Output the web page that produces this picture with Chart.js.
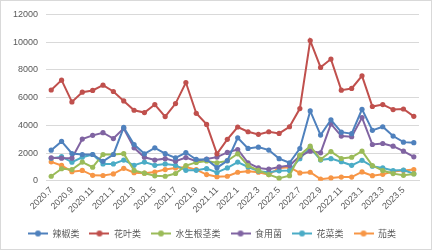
<!DOCTYPE html>
<html lang="zh-CN">
<head>
  <meta charset="UTF-8">
  <title>蔬菜类别月度数据</title>
  <script src="https://cdn.jsdelivr.net/npm/chart.js"></script>
  <style>
    html, body { margin: 0; padding: 0; background: #fff; }
    .box {
      width: 432px; height: 250px;
      box-sizing: border-box;
      border: 1px solid #d9d9d9;
    }
  </style>
</head>
<body>
  <div class="box">
    <canvas id="chart" width="430" height="248"></canvas>
  </div>

  <script>
    // 月份 2020.7 - 2023.6
    const months = [
      '2020.7', '2020.8', '2020.9', '2020.10', '2020.11', '2020.12',
      '2021.1', '2021.2', '2021.3', '2021.4', '2021.5', '2021.6',
      '2021.7', '2021.8', '2021.9', '2021.10', '2021.11', '2021.12',
      '2022.1', '2022.2', '2022.3', '2022.4', '2022.5', '2022.6',
      '2022.7', '2022.8', '2022.9', '2022.10', '2022.11', '2022.12',
      '2023.1', '2023.2', '2023.3', '2023.4', '2023.5', '2023.6'
    ];

    const lajiao = [2210, 2840, 1970, 1900, 1900, 1410, 1900, 3850, 2620, 1950, 2380, 1960,
                    1660, 2040, 1540, 1540, 950, 1450, 3100, 2340, 2430, 2220, 1600, 1300,
                    2330, 5040, 3300, 4400, 3510, 3400, 5160, 3640, 3900, 3230, 2790, 2750];
    const huaye = [6550, 7260, 5690, 6390, 6515, 6900, 6440, 5760, 5090, 4920, 5500, 4630,
                   5570, 7090, 4870, 4070, 1950, 2990, 3880, 3540, 3350, 3540, 3420, 3900,
                   5210, 10110, 8180, 8780, 6540, 6660, 7570, 5360, 5500, 5140, 5180, 4650];
    const shuisheng = [330, 870, 810, 1350, 980, 1900, 1900, 1960, 750, 550, 360, 330,
                       530, 1100, 1330, 1430, 1300, 1440, 1950, 1100, 750, 450, 190, 370,
                       1850, 2500, 1540, 2110, 1610, 1700, 2140, 1100, 740, 520, 400, 500];
    const shiyongjun = [1660, 1630, 1630, 3010, 3280, 3470, 3050, 3780, 2380, 1700, 1500, 1600,
                        1420, 1680, 1420, 1570, 1710, 2050, 2260, 1300, 930, 840, 1000, 1100,
                        1780, 2140, 2020, 4100, 3230, 3180, 4560, 2620, 2690, 2500, 2140, 1730];
    const huacai = [1620, 1740, 1340, 1700, 1900, 1220, 1220, 1500, 1120, 1350, 1120, 1220,
                    1120, 760, 760, 880, 600, 930, 1350, 1000, 700, 620, 720, 740,
                    1600, 2380, 1500, 1600, 1380, 1120, 1480, 1050, 930, 740, 780, 510];
    const qie = [1370, 1110, 660, 750, 400, 385, 500, 900, 590, 550, 630, 810,
                 930, 1000, 810, 450, 300, 330, 620, 690, 620, 450, 930, 980,
                 570, 620, 120, 210, 270, 270, 640, 370, 470, 670, 750, 810];

    const names = ['辣椒类', '花叶类', '水生根茎类', '食用菌', '花菜类', '茄类'];
    const series = [lajiao, huaye, shuisheng, shiyongjun, huacai, qie];
    const colors = ['#4F81BD', '#C0504D', '#9BBB59', '#8064A2', '#4BACC6', '#F79646'];

    // 图例里的小图标：线 + 圆点
    function legendIcon(color) {
      const c = document.createElement('canvas');
      c.width = 20; c.height = 8;
      const g = c.getContext('2d');
      g.strokeStyle = color;
      g.lineWidth = 2;
      g.beginPath();
      g.moveTo(0, 4); g.lineTo(20, 4);
      g.stroke();
      g.fillStyle = color;
      g.beginPath();
      g.arc(10, 4, 3, 0, Math.PI * 2);
      g.fill();
      return c;
    }
    const icons = colors.map(legendIcon);

    const font = "'Liberation Sans', 'Noto Sans CJK SC', sans-serif";

    new Chart(document.getElementById('chart').getContext('2d'), {
      type: 'line',
      data: {
        labels: months,
        datasets: series.map((d, i) => ({
          label: names[i],
          data: d,
          borderColor: colors[i],
          backgroundColor: colors[i],
          borderWidth: 2,
          pointRadius: 2.6,
          pointBorderWidth: 0,
          pointHoverRadius: 3,
          tension: 0
        }))
      },
      options: {
        responsive: false,
        animation: false,
        layout: { padding: { top: 0, right: 12, left: 4, bottom: 1 } },
        plugins: {
          tooltip: { enabled: false },
          legend: {
            position: 'bottom',
            labels: {
              usePointStyle: true,
              pointStyleWidth: 20,
              padding: 10,
              color: '#595959',
              font: { size: 9, family: "'Noto Sans CJK SC', sans-serif" },
              generateLabels: (chart) => names.map((n, i) => ({
                text: n,
                fillStyle: colors[i],
                strokeStyle: colors[i],
                lineWidth: 0,
                pointStyle: icons[i],
                fontColor: '#595959',
                datasetIndex: i,
                hidden: false
              }))
            }
          }
        },
        scales: {
          x: {
            offset: true,
            grid: { display: false, drawTicks: false },
            border: { display: true, color: '#d9d9d9' },
            ticks: {
              autoSkip: false,
              maxRotation: 45,
              minRotation: 45,
              padding: 4,
              color: '#595959',
              font: { size: 9, family: font },
              callback: function (v, i) { return i % 2 === 0 ? months[i] : ''; }
            }
          },
          y: {
            min: 0,
            max: 12000,
            grid: { color: '#d9d9d9', drawTicks: false },
            border: { display: false },
            ticks: {
              stepSize: 2000,
              padding: 8,
              color: '#595959',
              font: { size: 9, family: font },
              callback: (v) => String(v)
            }
          }
        }
      }
    });
  </script>
</body>
</html>
